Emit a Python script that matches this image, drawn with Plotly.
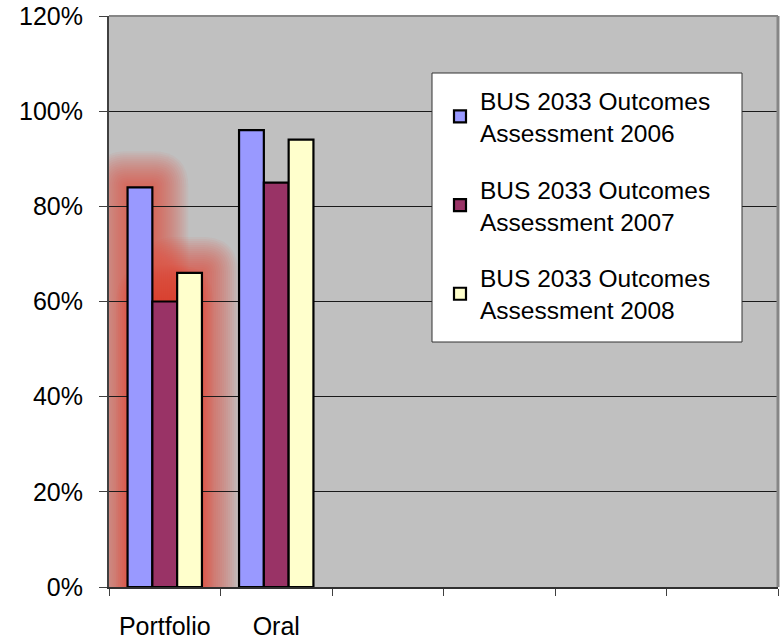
import plotly.graph_objects as go

# Categories on the x axis (six slots, only the first two are filled)
categories = ["Portfolio", "Oral", " ", "  ", "   ", "    "]

# Outcome scores per assessment year (fraction of students meeting the outcome)
series_names = [
    "BUS 2033 Outcomes<br>Assessment 2006",
    "BUS 2033 Outcomes<br>Assessment 2007",
    "BUS 2033 Outcomes<br>Assessment 2008",
]
scores_2006 = [0.84, 0.96, None, None, None, None]
scores_2007 = [0.60, 0.85, None, None, None, None]
scores_2008 = [0.66, 0.94, None, None, None, None]

# Y tick positions and labels
y_tick_values = [0, 0.2, 0.4, 0.6, 0.8, 1.0, 1.2]
y_tick_labels = ["0%", "20%", "40%", "60%", "80%", "100%", "120%"]

# Category that carries the highlight glow
highlight_category = "Portfolio"

series_values = [scores_2006, scores_2007, scores_2008]
bar_colors = ["#9999FF", "#993366", "#FFFFCC"]

FONT = "Arial, Liberation Sans, sans-serif"
W, H = 784, 642
M_L, M_R, M_T, M_B = 109, 6, 16, 55
BARGAP = 0.333

fig = go.Figure()
for name, vals, col in zip(series_names, series_values, bar_colors):
    fig.add_trace(go.Bar(
        x=categories, y=vals, name=name,
        marker=dict(color=col, line=dict(color="#000000", width=2.2)),
        legendgroup=name,
    ))

# Soft red glow behind the highlighted group: stacked translucent
# rounded outlines around each bar, growing outwards.
plot_w = W - M_L - M_R
plot_h = H - M_T - M_B
cat_px = plot_w / len(categories)
n_series = len(series_values)
unit = (1 - BARGAP) / n_series
half_px = unit * cat_px / 2
ci = categories.index(highlight_category)
shapes = []
for k, vals in enumerate(series_values):
    v = vals[ci]
    xc = ci + (k - (n_series - 1) / 2) * unit
    for p in range(2, 37, 2):
        w = half_px + p
        path = (f"M {-w},-900 V 0 Q {-w},{p} {-w + p},{p} "
                f"H {w - p} Q {w},{p} {w},0 V -900 Z")
        shapes.append(dict(
            type="path", path=path, xref="x", yref="y",
            xsizemode="pixel", ysizemode="pixel", xanchor=xc, yanchor=v,
            fillcolor="rgb(232,55,45)", opacity=0.05,
            line=dict(width=0), layer="below",
        ))

# Top and right frame of the plot area
shapes.append(dict(type="line", xref="paper", yref="paper", x0=0, x1=1, y0=1, y1=1,
                   line=dict(color="#868686", width=2), layer="above"))
shapes.append(dict(type="line", xref="paper", yref="paper", x0=1, x1=1, y0=0, y1=1,
                   line=dict(color="#868686", width=3), layer="above"))

# White legend panel
shapes.append(dict(type="rect", xref="paper", yref="paper",
                   x0=(432 - M_L) / plot_w, x1=(742 - M_L) / plot_w,
                   y0=(H - M_B - 342) / plot_h, y1=(H - M_B - 73) / plot_h,
                   fillcolor="white", line=dict(color="#333333", width=1), layer="above"))

fig.update_layout(
    width=W, height=H,
    margin=dict(l=M_L, r=M_R, t=M_T, b=M_B),
    paper_bgcolor="white", plot_bgcolor="#C0C0C0",
    barmode="group", bargap=BARGAP, bargroupgap=0,
    font=dict(family=FONT, size=25, color="#000000"),
    shapes=shapes,
    showlegend=True,
    legend=dict(
        x=(440 - M_L) / plot_w, y=(H - M_B - 78) / plot_h,
        xanchor="left", yanchor="top",
        bgcolor="rgba(0,0,0,0)", borderwidth=0,
        font=dict(family=FONT, size=24.5, color="#000000"),
        tracegroupgap=22,
    ),
)
fig.update_xaxes(
    type="category", categoryorder="array", categoryarray=categories,
    range=[-0.5, len(categories) - 0.5], automargin=False,
    tickson="boundaries", ticks="outside", ticklen=7, tickwidth=1, tickcolor="#404040",
    showline=True, linecolor="#303030", linewidth=2,
    showgrid=False, ticklabelstandoff=16,
    tickfont=dict(family=FONT, size=25, color="#000000"),
)
fig.update_yaxes(
    range=[0, 1.2], tickvals=y_tick_values, ticktext=y_tick_labels, automargin=False,
    ticks="outside", ticklen=8, tickwidth=1, tickcolor="#404040",
    showline=True, linecolor="#404040", linewidth=2,
    showgrid=True, gridcolor="#1a1a1a", gridwidth=1, zeroline=False,
    ticklabelstandoff=11,
    tickfont=dict(family=FONT, size=25, color="#000000"),
)

fig.write_html("out.html")
